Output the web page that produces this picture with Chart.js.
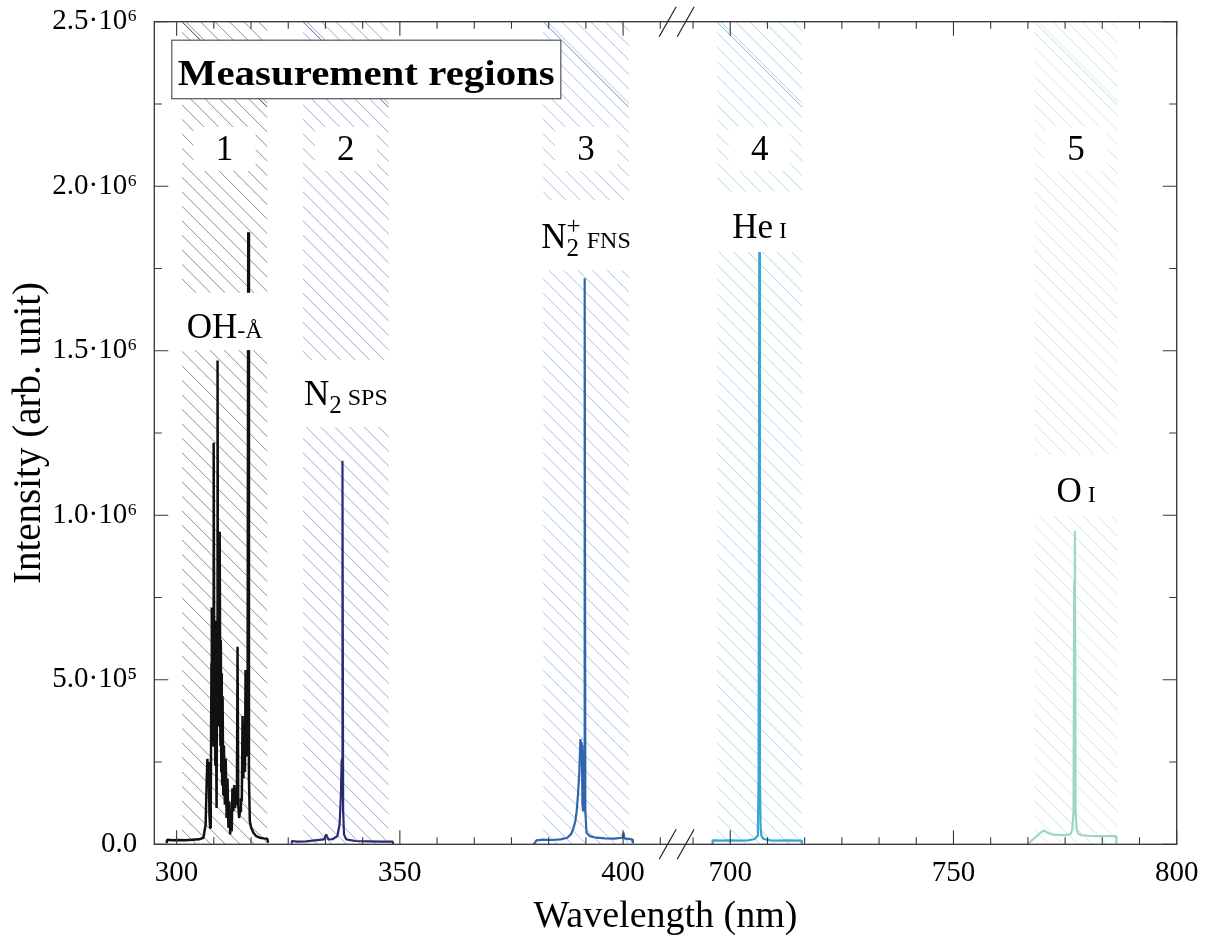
<!DOCTYPE html>
<html><head><meta charset="utf-8">
<script src="https://cdn.jsdelivr.net/npm/chart.js@4.4.1/dist/chart.umd.min.js"></script>
<style>html,body{margin:0;padding:0;background:#fff;}#wrap{width:1211px;height:945px;}</style>
</head><body><div id="wrap"><canvas id="c" width="1211" height="945"></canvas></div>
<script>
// ---------------- data ----------------
const BREAK_AT = 412;      // axis value where the break sits
const BREAK_SHIFT = 276;   // wavelengths above the break are shifted by this amount
const xMajorTicks = [300, 350, 400, 700, 750, 800];
const xMinorStep = 50 / 6;
const yTickValues = [0, 5e5, 1e6, 1.5e6, 2e6, 2.5e6];
const yTickLabels = ['0.0', '5.0·10⁵', '1.0·10⁶', '1.5·10⁶', '2.0·10⁶', '2.5·10⁶'];
const yMinorStep = 2.5e5;

// series 1 : OH (A-X) region, intensity in 1e6
const ohWl  = [297.75,297.9,299.0,300.5,302.0,303.5,305.0,306.0,306.5,306.75,306.9,307.05,307.2,307.35,307.5,307.65,307.8,307.88,307.95,308.05,308.15,308.25,308.35,308.45,308.55,308.65,308.75,308.85,308.95,309.05,309.17,309.28,309.4,309.5,309.6,309.69,309.8,309.9,310.0,310.1,310.2,310.3,310.45,310.6,310.8,311.0,311.2,311.4,311.6,311.8,312.0,312.2,312.35,312.5,312.7,312.9,313.1,313.3,313.5,313.65,313.8,314.0,314.2,314.4,314.6,314.77,314.95,315.15,315.3,315.44,315.6,315.75,315.9,316.04,316.2,316.4,316.7,317.2,317.8,318.6,319.5,320.3,320.5];
const ohInt = [0.004,0.014,0.012,0.013,0.012,0.014,0.015,0.02,0.06,0.2,0.26,0.18,0.25,0.09,0.05,0.12,0.55,0.72,0.4,0.62,0.3,0.7,1.22,0.35,0.62,0.24,0.68,0.3,0.11,0.55,1.47,0.42,0.7,0.36,0.65,0.95,0.3,0.62,0.22,0.52,0.18,0.45,0.15,0.3,0.12,0.26,0.08,0.2,0.05,0.13,0.03,0.09,0.04,0.17,0.1,0.18,0.11,0.15,0.12,0.6,0.12,0.08,0.1,0.14,0.13,0.39,0.2,0.37,0.22,0.53,0.27,0.3,0.45,1.86,0.2,0.07,0.05,0.035,0.025,0.02,0.018,0.017,0.005];

// series 2 : N2 SPS
const n2Wl  = [325.74,325.8,327.0,329.0,331.0,333.0,333.5,334.0,335.0,336.0,336.5,336.8,336.95,337.05,337.15,337.3,337.5,338.0,340.0,343.0,346.0,348.4,348.5];
const n2Int = [0.003,0.01,0.008,0.009,0.012,0.015,0.03,0.015,0.016,0.025,0.06,0.15,0.25,0.26,1.166,0.1,0.03,0.015,0.01,0.009,0.008,0.008,0.002];

// series 3 : N2+ FNS
const n2pWl  = [380.0,380.6,382.0,384.0,386.0,387.5,388.3,388.8,389.3,389.6,389.9,390.2,390.45,390.6,390.75,390.9,391.1,391.3,391.4,391.55,391.8,392.5,394.0,396.0,398.0,399.9,400.1,400.3,402.0,402.2];
const n2pInt = [0.0,0.012,0.014,0.013,0.015,0.02,0.03,0.045,0.07,0.1,0.15,0.22,0.32,0.3,0.31,0.12,0.1,0.3,1.72,0.1,0.035,0.025,0.02,0.018,0.017,0.02,0.035,0.018,0.015,0.003];

// series 4 : He I
const heWl  = [696.0,696.05,698.0,700.0,702.0,704.0,705.5,706.0,706.2,706.35,706.5,706.65,706.8,707.0,707.5,709.0,711.0,713.0,715.0,716.0,716.03];
const heInt = [0.0,0.012,0.011,0.012,0.011,0.012,0.016,0.025,0.05,0.2,1.8,0.2,0.05,0.025,0.016,0.012,0.011,0.012,0.011,0.011,0.002];

// series 5 : O I
const oWl  = [766.55,769.5,770.3,771.0,772.0,774.0,775.5,776.3,776.6,776.9,777.05,777.2,777.35,777.6,778.0,778.6,780.0,782.0,784.0,786.45,786.5];
const oInt = [0.0,0.035,0.042,0.036,0.03,0.028,0.028,0.032,0.045,0.1,0.8,0.953,0.1,0.045,0.032,0.028,0.026,0.025,0.025,0.025,0.002];

const seriesColors = ['#111111', '#262b73', '#2e65ab', '#3aa5d2', '#9dd5ca'];
const seriesWidths = [2.5, 2.2, 2.2, 2.2, 2.2];

// measurement regions (nm)
const regionStart = [301.2, 328.3, 382.1, 697.0, 768.1];
const regionEnd   = [320.3, 347.5, 401.3, 716.2, 786.8];
const regionNumbers = ['1', '2', '3', '4', '5'];
const hatchColors = ['#8f8f8f', '#a3a6d2', '#a6c3e3', '#a6dced', '#c9ebe4'];
const hatchDark   = ['#333333', '#5a5fa8', '#6f97cb', '#7cc5e3', '#b3e0d7'];

// ---------------- chart ----------------
const FONT = "'Liberation Serif', 'Times New Roman', serif";
const toAxis = wl => wl > 600 ? wl - BREAK_SHIFT : wl;
const fromAxis = v => v > BREAK_AT ? v + BREAK_SHIFT : v;
const pts = (xs, ys) => xs.map((x, i) => ({x: toAxis(x), y: ys[i] * 1e6}));

const allSeries = [[ohWl, ohInt], [n2Wl, n2Int], [n2pWl, n2pInt], [heWl, heInt], [oWl, oInt]];
const datasets = allSeries.map((s, i) => ({
  data: pts(s[0], s[1]),
  borderColor: seriesColors[i],
  borderWidth: seriesWidths[i],
  pointRadius: 0,
  tension: 0,
  borderJoinStyle: 'bevel',
  fill: false
}));

// labels (y positions expressed in intensity units)
const numberBaseline = 2.08e6;
const speciesLabels = [
  {r: 0, base: 1.538e6, boxTop: 1.676e6, boxBot: 1.502e6, parts: [{t:'OH', s:35}, {t:'-Å', s:24}]},
  {r: 1, base: 1.335e6, boxTop: 1.472e6, boxBot: 1.268e6, parts: [{t:'N', s:35}, {t:'2', s:25, dy:8}, {t:' SPS', s:24}]},
  {r: 2, base: 1.811e6, boxTop: 1.958e6, boxBot: 1.745e6, parts: [{t:'N', s:35}, {t:'2', s:25, dy:8}, {t:'+', s:25, dy:-14, over:true}, {t:' FNS', s:24}]},
  {r: 3, base: 1.843e6, boxTop: 1.983e6, boxBot: 1.8e6, parts: [{t:'He', s:35}, {t:' I', s:24}]},
  {r: 4, base: 1.041e6, boxTop: 1.183e6, boxBot: 0.998e6, parts: [{t:'O', s:35}, {t:' I', s:24}]}
];

function layoutRich(ctx, parts) {
  let x = 0, prevX = 0, prevW = 0; const out = [];
  for (const p of parts) {
    ctx.font = p.s + 'px ' + FONT;
    const w = ctx.measureText(p.t).width;
    if (p.over) {
      out.push({p, x: prevX});
      if (w > prevW) x = prevX + w;
    } else {
      out.push({p, x});
      prevX = x; prevW = w; x += w;
    }
  }
  return {items: out, width: x};
}
function drawRich(ctx, parts, cx, base) {
  const L = layoutRich(ctx, parts);
  const x0 = cx - L.width / 2;
  ctx.fillStyle = '#000'; ctx.textBaseline = 'alphabetic'; ctx.textAlign = 'left';
  for (const it of L.items) {
    ctx.font = it.p.s + 'px ' + FONT;
    ctx.fillText(it.p.t, x0 + it.x, base + (it.p.dy || 0));
  }
  return L.width;
}

const decor = {
  id: 'decor',
  beforeDatasetsDraw(chart) {
    const {ctx, chartArea: a, scales: {x}} = chart;
    regionStart.forEach((s, i) => {
      const x0 = x.getPixelForValue(toAxis(s)), x1 = x.getPixelForValue(toAxis(regionEnd[i]));
      const h = a.bottom - a.top;
      ctx.save();
      ctx.beginPath(); ctx.rect(x0, a.top, x1 - x0, h); ctx.clip();
      ctx.strokeStyle = hatchColors[i]; ctx.lineWidth = 1;
      ctx.beginPath();
      for (let c = x0 - h; c <= x1; c += 14.5) { ctx.moveTo(c, a.top); ctx.lineTo(c + h, a.bottom); }
      ctx.stroke();
      ctx.strokeStyle = hatchDark[i]; ctx.lineWidth = 1;
      ctx.beginPath(); ctx.moveTo(x0, a.top); ctx.lineTo(x1, a.top + (x1 - x0)); ctx.stroke();
      ctx.restore();
    });
  },
  afterDatasetsDraw(chart) {
    const {ctx, chartArea: a, scales: {x, y}} = chart;
    ctx.save();
    // region numbers with white boxes
    regionStart.forEach((s, i) => {
      const x0 = x.getPixelForValue(toAxis(s)), x1 = x.getPixelForValue(toAxis(regionEnd[i]));
      const cx = (x0 + x1) / 2, base = y.getPixelForValue(numberBaseline);
      ctx.fillStyle = '#fff';
      ctx.fillRect(cx - 31, base - 33, 62, 44);
      drawRich(ctx, [{t: regionNumbers[i], s: 35}], cx, base);
    });
    // species labels
    speciesLabels.forEach(l => {
      const x0 = x.getPixelForValue(toAxis(regionStart[l.r])), x1 = x.getPixelForValue(toAxis(regionEnd[l.r]));
      const cx = (x0 + x1) / 2;
      const w = layoutRich(ctx, l.parts).width;
      const bw = Math.max(w + 10, x1 - x0 + 2);
      const t = y.getPixelForValue(l.boxTop), b = y.getPixelForValue(l.boxBot);
      ctx.fillStyle = '#fff';
      ctx.fillRect(cx - bw / 2, t, bw, b - t);
      drawRich(ctx, l.parts, cx, y.getPixelForValue(l.base));
    });
    // "Measurement regions" box
    const bx = a.left + 17.5, by = a.top + 18.5, bw = 389, bh = 58.5;
    ctx.fillStyle = '#fff'; ctx.fillRect(bx, by, bw, bh);
    ctx.strokeStyle = '#555'; ctx.lineWidth = 1.2; ctx.strokeRect(bx, by, bw, bh);
    ctx.font = 'bold 35px ' + FONT;
    const tw = ctx.measureText('Measurement regions').width;
    ctx.save();
    ctx.translate(bx + bw / 2, by + 45);
    ctx.scale(377 / tw, 1);
    ctx.fillStyle = '#000'; ctx.textAlign = 'center'; ctx.textBaseline = 'alphabetic';
    ctx.fillText('Measurement regions', 0, 0);
    ctx.restore();

    // frame
    ctx.strokeStyle = '#333'; ctx.lineWidth = 1.3;
    ctx.strokeRect(a.left, a.top, a.right - a.left, a.bottom - a.top);
    // ticks
    ctx.strokeStyle = '#3a3a3a'; ctx.lineWidth = 1.1;
    ctx.beginPath();
    const xt = (v, len) => { const px = x.getPixelForValue(v);
      ctx.moveTo(px, a.bottom); ctx.lineTo(px, a.bottom - len);
      ctx.moveTo(px, a.top); ctx.lineTo(px, a.top + len); };
    const yt = (v, len) => { const py = y.getPixelForValue(v);
      ctx.moveTo(a.left, py); ctx.lineTo(a.left + len, py);
      ctx.moveTo(a.right, py); ctx.lineTo(a.right - len, py); };
    xMajorTicks.forEach(m => xt(toAxis(m), 14));
    for (let k = -1; k <= 13; k++) {
      if (k % 6 === 0) continue;
      const l = 300 + k * xMinorStep; if (l > x.min && l < BREAK_AT) xt(l, 7);
      const r = 700 + k * xMinorStep; if (toAxis(r) > BREAK_AT && toAxis(r) < x.max) xt(toAxis(r), 7);
    }
    yTickValues.forEach(v => yt(v, 14));
    for (let v = yMinorStep; v < 2.5e6; v += 2 * yMinorStep) yt(v, 7.5);
    ctx.stroke();
    // axis break marks
    const bp = x.getPixelForValue(BREAK_AT);
    ctx.strokeStyle = '#222'; ctx.lineWidth = 1.2; ctx.beginPath();
    [a.top, a.bottom].forEach(yy => [-9, 9].forEach(d => {
      ctx.moveTo(bp + d - 8.5, yy + 15); ctx.lineTo(bp + d + 8.5, yy - 15);
    }));
    ctx.stroke();
    ctx.restore();
  }
};

new Chart(document.getElementById('c'), {
  type: 'line',
  data: {datasets},
  plugins: [decor],
  options: {
    responsive: false, animation: false, devicePixelRatio: 1,
    layout: {padding: {left: 0, top: 21.7, right: 34.3, bottom: 0}},
    plugins: {legend: {display: false}, tooltip: {enabled: false}},
    scales: {
      x: {
        type: 'linear', min: 295, max: 524,
        afterFit(s) { s.height = 100.7; s.paddingTop = 0; s.paddingBottom = 0; },
        afterBuildTicks(s) { s.ticks = xMajorTicks.map(v => ({value: toAxis(v)})); },
        grid: {display: false, drawTicks: false}, border: {display: false},
        ticks: {font: {family: FONT, size: 29}, color: '#000', padding: 12, autoSkip: false, maxRotation: 0,
          callback: v => String(Math.round(fromAxis(v)))},
        title: {display: true, text: 'Wavelength (nm)', color: '#000', font: {family: FONT, size: 38}, padding: {top: 0, bottom: 5.2}}
      },
      y: {
        min: 0, max: 2.5e6,
        afterFit(s) { s.width = 154.3; s.paddingTop = 0; s.paddingBottom = 0; },
        afterBuildTicks(s) { s.ticks = yTickValues.map(v => ({value: v})); },
        grid: {display: false, drawTicks: false}, border: {display: false},
        ticks: {font: {family: FONT, size: 29}, color: '#000', padding: 17,
          callback: (v, i) => yTickLabels[i]},
        title: {display: true, text: 'Intensity (arb. unit)', color: '#000', font: {family: FONT, size: 39}, padding: {top: 6.5, bottom: 0}}
      }
    }
  }
});
</script></body></html>
